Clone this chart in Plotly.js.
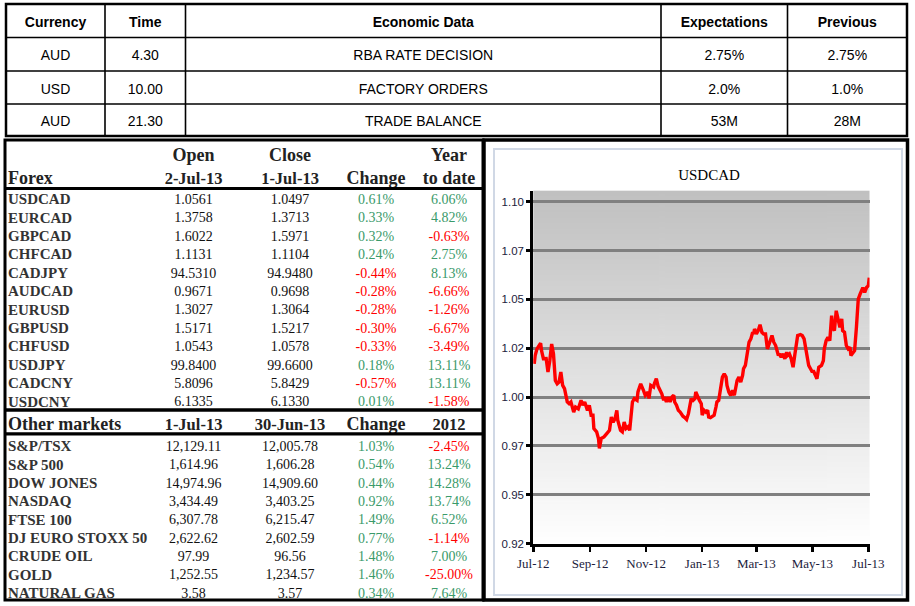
<!DOCTYPE html>
<html><head><meta charset="utf-8">
<script src="https://cdn.plot.ly/plotly-3.0.1.min.js"></script>
<style>html,body{margin:0;padding:0;background:#fff;}#chart{width:915px;height:606px;}</style>
</head><body><div id="chart"></div>
<script>
// ---------- Economic calendar ----------
const calHeaders = ['Currency','Time','Economic Data','Expectations','Previous'];
const calCurrency = ['AUD','USD','AUD'];
const calTime = ['4.30','10.00','21.30'];
const calEvent = ['RBA RATE DECISION','FACTORY ORDERS','TRADE BALANCE'];
const calExpect = ['2.75%','2.0%','53M'];
const calPrev = ['2.75%','1.0%','28M'];

// ---------- Forex ----------
const fxNames = ['USDCAD','EURCAD','GBPCAD','CHFCAD','CADJPY','AUDCAD','EURUSD','GBPUSD','CHFUSD','USDJPY','CADCNY','USDCNY'];
const fxOpen = ['1.0561','1.3758','1.6022','1.1131','94.5310','0.9671','1.3027','1.5171','1.0543','99.8400','5.8096','6.1335'];
const fxClose = ['1.0497','1.3713','1.5971','1.1104','94.9480','0.9698','1.3064','1.5217','1.0578','99.6600','5.8429','6.1330'];
const fxChange = [0.61,0.33,0.32,0.24,-0.44,-0.28,-0.28,-0.30,-0.33,0.18,-0.57,0.01];
const fxYtd = [6.06,4.82,-0.63,2.75,8.13,-6.66,-1.26,-6.67,-3.49,13.11,13.11,-1.58];

// ---------- Other markets ----------
const mkNames = ['S&P/TSX','S&P 500','DOW JONES','NASDAQ','FTSE 100','DJ EURO STOXX 50','CRUDE OIL','GOLD','NATURAL GAS'];
const mkJul1 = ['12,129.11','1,614.96','14,974.96','3,434.49','6,307.78','2,622.62','97.99','1,252.55','3.58'];
const mkJun30 = ['12,005.78','1,606.28','14,909.60','3,403.25','6,215.47','2,602.59','96.56','1,234.57','3.57'];
const mkChange = [1.03,0.54,0.44,0.92,1.49,0.77,1.48,1.46,0.34];
const mk2012 = [-2.45,13.24,14.28,13.74,6.52,-1.14,7.00,-25.00,7.64];

// ---------- USDCAD series ----------
const usdcadDates = ['2012-07-02','2012-07-03','2012-07-05','2012-07-09','2012-07-10','2012-07-12','2012-07-15','2012-07-17','2012-07-19','2012-07-21','2012-07-23','2012-07-25','2012-07-27','2012-07-29','2012-07-31','2012-08-02','2012-08-04','2012-08-07','2012-08-09','2012-08-11','2012-08-14','2012-08-16','2012-08-19','2012-08-22','2012-08-24','2012-08-26','2012-08-29','2012-08-31','2012-09-02','2012-09-04','2012-09-05','2012-09-08','2012-09-10','2012-09-11','2012-09-13','2012-09-16','2012-09-19','2012-09-22','2012-09-24','2012-09-26','2012-09-28','2012-09-30','2012-10-01','2012-10-02','2012-10-04','2012-10-06','2012-10-08','2012-10-10','2012-10-12','2012-10-14','2012-10-15','2012-10-17','2012-10-19','2012-10-22','2012-10-23','2012-10-26','2012-10-29','2012-10-31','2012-11-03','2012-11-04','2012-11-06','2012-11-09','2012-11-10','2012-11-12','2012-11-14','2012-11-16','2012-11-18','2012-11-20','2012-11-21','2012-11-23','2012-11-25','2012-11-27','2012-11-29','2012-12-01','2012-12-02','2012-12-04','2012-12-06','2012-12-08','2012-12-10','2012-12-11','2012-12-13','2012-12-15','2012-12-17','2012-12-19','2012-12-20','2012-12-22','2012-12-24','2012-12-25','2012-12-27','2012-12-29','2012-12-31','2013-01-01','2013-01-03','2013-01-05','2013-01-07','2013-01-08','2013-01-10','2013-01-12','2013-01-14','2013-01-16','2013-01-17','2013-01-19','2013-01-21','2013-01-23','2013-01-25','2013-01-27','2013-01-28','2013-01-30','2013-02-01','2013-02-03','2013-02-05','2013-02-06','2013-02-08','2013-02-10','2013-02-12','2013-02-14','2013-02-15','2013-02-17','2013-02-19','2013-02-21','2013-02-23','2013-02-25','2013-02-26','2013-02-27','2013-03-01','2013-03-03','2013-03-05','2013-03-07','2013-03-09','2013-03-11','2013-03-13','2013-03-15','2013-03-18','2013-03-20','2013-03-22','2013-03-25','2013-03-26','2013-03-28','2013-03-30','2013-04-01','2013-04-03','2013-04-04','2013-04-06','2013-04-08','2013-04-10','2013-04-12','2013-04-14','2013-04-15','2013-04-18','2013-04-20','2013-04-22','2013-04-24','2013-04-25','2013-04-27','2013-04-29','2013-05-01','2013-05-02','2013-05-05','2013-05-06','2013-05-08','2013-05-11','2013-05-13','2013-05-14','2013-05-16','2013-05-18','2013-05-20','2013-05-22','2013-05-23','2013-05-25','2013-05-27','2013-05-29','2013-05-31','2013-06-02','2013-06-03','2013-06-05','2013-06-07','2013-06-09','2013-06-11','2013-06-12','2013-06-14','2013-06-16','2013-06-18','2013-06-20','2013-06-22','2013-06-23','2013-06-25','2013-06-27','2013-06-29','2013-07-01','2013-07-02'];
const usdcadValues = [1.0170,1.0213,1.0247,1.0276,1.0238,1.0196,1.0197,1.0128,1.0187,1.0272,1.0221,1.0085,1.0068,1.0077,1.0128,1.0060,1.0043,0.9975,0.9966,0.9975,0.9923,0.9949,0.9940,0.9983,0.9958,0.9975,0.9932,0.9958,0.9907,0.9907,0.9839,0.9822,0.9788,0.9737,0.9788,0.9796,0.9813,0.9830,0.9898,0.9872,0.9889,0.9932,0.9881,0.9864,0.9830,0.9822,0.9872,0.9839,0.9847,0.9830,0.9898,0.9975,0.9992,0.9983,1.0026,1.0068,1.0034,1.0009,1.0026,0.9992,1.0060,1.0051,1.0071,1.0094,1.0055,1.0034,1.0017,0.9983,1.0000,0.9975,1.0000,0.9975,1.0000,1.0009,0.9975,0.9958,0.9932,0.9923,0.9907,0.9902,0.9895,0.9885,0.9915,0.9958,0.9992,0.9983,0.9992,1.0026,1.0000,0.9983,0.9966,0.9907,0.9932,0.9923,0.9932,0.9898,0.9895,0.9902,0.9907,0.9949,0.9975,0.9983,1.0034,1.0102,1.0119,1.0102,1.0060,1.0026,1.0009,1.0034,1.0009,1.0043,1.0085,1.0102,1.0077,1.0111,1.0145,1.0162,1.0221,1.0281,1.0298,1.0332,1.0323,1.0349,1.0323,1.0340,1.0371,1.0332,1.0323,1.0323,1.0247,1.0272,1.0315,1.0281,1.0264,1.0213,1.0221,1.0204,1.0221,1.0196,1.0230,1.0213,1.0221,1.0196,1.0153,1.0221,1.0306,1.0315,1.0320,1.0315,1.0298,1.0238,1.0196,1.0162,1.0145,1.0128,1.0136,1.0111,1.0094,1.0153,1.0162,1.0187,1.0247,1.0289,1.0306,1.0289,1.0417,1.0357,1.0340,1.0442,1.0400,1.0357,1.0400,1.0340,1.0332,1.0264,1.0247,1.0255,1.0213,1.0230,1.0238,1.0357,1.0502,1.0527,1.0536,1.0561,1.0536,1.0561,1.0570,1.0612];

const xTickVals = ['2012-07-01','2012-09-01','2012-11-01','2013-01-01','2013-03-01','2013-05-01','2013-07-01'];
const xTickText = ['Jul-12','Sep-12','Nov-12','Jan-13','Mar-13','May-13','Jul-13'];
const yTickVals = [0.925,0.95,0.975,1.0,1.025,1.05,1.075,1.10];
const yTickText = ['0.92','0.95','0.97','1.00','1.02','1.05','1.07','1.10'];

// ---------- layout helpers ----------
const W = 915, H = 606;
const traces = [], shapes = [];
const SANS = 'Liberation Sans, Arial, sans-serif';
const SERIF = 'Liberation Serif, Times New Roman, serif';
const GREEN = '#3a9a6a', RED = '#ff0000';
const TEXT_DY = 2.5;   // plotly 'middle' sits a little high
function textCol(xs, ys, texts, font, pos) {
  traces.push({type:'scatter', mode:'text', x:xs, y:ys.map(v => v + TEXT_DY), text:texts,
    textposition: pos || 'middle center', textfont: font,
    xaxis:'x2', yaxis:'y2', hoverinfo:'skip', showlegend:false, cliponaxis:false});
}
function hline(x0, x1, y, w, c) { shapes.push({type:'line', xref:'x2', yref:'y2', x0:x0, x1:x1, y0:y, y1:y, line:{width:w, color:c || '#000'}}); }
function vline(x, y0, y1, w, c) { shapes.push({type:'line', xref:'x2', yref:'y2', x0:x, x1:x, y0:y0, y1:y1, line:{width:w, color:c || '#000'}}); }
function box(x0, y0, x1, y1, w, c) { shapes.push({type:'rect', xref:'x2', yref:'y2', x0:x0, x1:x1, y0:y0, y1:y1, line:{width:w, color:c || '#000'}, fillcolor:'rgba(0,0,0,0)'}); }
const rep = (v, n) => Array(n).fill(v);
const pct = v => v.toFixed(2) + '%';
const pcol = v => v < 0 ? RED : GREEN;

// ---------- top calendar table ----------
const calColEdges = [6, 105, 185.5, 661, 787.5, 907];
const calRowEdges = [4, 37.5, 71, 104, 136];
const calColMid = calColEdges.slice(0, -1).map((v, i) => (v + calColEdges[i + 1]) / 2);
const calRowMid = calRowEdges.slice(0, -1).map((v, i) => (v + calRowEdges[i + 1]) / 2);
textCol(calColMid, rep(calRowMid[0], 5), calHeaders.map(t => '<b>' + t + '</b>'), {family:SANS, size:14, color:'#000'});
const calCols = [calCurrency, calTime, calEvent, calExpect, calPrev];
calCols.forEach((col, c) => textCol(rep(calColMid[c], col.length), calRowMid.slice(1), col, {family:SANS, size:14, color:'#000'}));
box(calColEdges[0], calRowEdges[0], calColEdges[5], calRowEdges[4], 2.5);
calRowEdges.slice(1, -1).forEach(y => hline(calColEdges[0], calColEdges[5], y, 1.6));
calColEdges.slice(1, -1).forEach(x => vline(x, calRowEdges[0], calRowEdges[4], 1.6));

// ---------- left market table ----------
const L = {x0:5, x1:483, y0:140, y1:600};
const nameX = 8, colOpen = 193.5, colClose = 290, colChg = 376, colYtd = 449;
const rowH = 18.4;
const hdr1Y = 154, hdr2Y = 177, fxTop = 198;
const HF = {family:SERIF, size:16.5, color:'#222'};
const HFL = {family:SERIF, size:18, color:'#222'};
const NF = {family:SERIF, size:15, color:'#333'};
const VF = {family:SERIF, size:14, color:'#111'};
textCol([colOpen, colClose, colYtd], rep(hdr1Y, 3), ['<b>Open</b>','<b>Close</b>','<b>Year</b>'], HFL);
textCol([colOpen, colClose], rep(hdr2Y, 2), ['<b>2-Jul-13</b>','<b>1-Jul-13</b>'], HF);
textCol([colChg, colYtd], rep(hdr2Y, 2), ['<b>Change</b>','<b>to date</b>'], HFL);
textCol([nameX], [hdr2Y], ['<b>Forex</b>'], HFL, 'middle right');
const fxY = fxNames.map((_, i) => fxTop + i * rowH);
textCol(rep(nameX, fxNames.length), fxY, fxNames.map(n => '<b>' + n + '</b>'), NF, 'middle right');
textCol(rep(colOpen, fxOpen.length), fxY, fxOpen, VF);
textCol(rep(colClose, fxClose.length), fxY, fxClose, VF);
textCol(rep(colChg, fxChange.length), fxY, fxChange.map(pct), Object.assign({}, VF, {color:fxChange.map(pcol)}));
textCol(rep(colYtd, fxYtd.length), fxY, fxYtd.map(pct), Object.assign({}, VF, {color:fxYtd.map(pcol)}));
const sep1 = fxY[fxY.length - 1] + 9.5;
const mkHdrY = sep1 + 13.5;
const sep2 = mkHdrY + 10.5;
const mkTop = sep2 + 11.2;
textCol([nameX], [mkHdrY], ['<b>Other markets</b>'], HFL, 'middle right');
textCol([colOpen, colClose, colYtd], rep(mkHdrY, 3), ['<b>1-Jul-13</b>','<b>30-Jun-13</b>','<b>2012</b>'], HF);
textCol([colChg], [mkHdrY], ['<b>Change</b>'], HFL);
const mkY = mkNames.map((_, i) => mkTop + i * 18.33);
textCol(rep(nameX, mkNames.length), mkY, mkNames.map(n => '<b>' + n + '</b>'), NF, 'middle right');
textCol(rep(colOpen, mkJul1.length), mkY, mkJul1, VF);
textCol(rep(colClose, mkJun30.length), mkY, mkJun30, VF);
textCol(rep(colChg, mkChange.length), mkY, mkChange.map(pct), Object.assign({}, VF, {color:mkChange.map(pcol)}));
textCol(rep(colYtd, mk2012.length), mkY, mk2012.map(pct), Object.assign({}, VF, {color:mk2012.map(pcol)}));
hline(L.x0, L.x1, 188.5, 3.2);
hline(L.x0, L.x1, sep1, 3.5);
hline(L.x0, L.x1, sep2, 3.2);
box(L.x0, L.y0, L.x1, L.y1, 3);

// ---------- chart box ----------
box(484, 140, 907.5, 600, 3.5);
box(494, 149, 902, 595, 2, '#d0d8e5');

// USDCAD line
traces.push({type:'scatter', mode:'lines', x:usdcadDates, y:usdcadValues,
  line:{color:'#ff0000', width:3.4}, xaxis:'x', yaxis:'y', hoverinfo:'skip', showlegend:false});

// gradient plot background (canvas -> png)
const cv = document.createElement('canvas'); cv.width = 4; cv.height = 256;
const cx = cv.getContext('2d');
const gr = cx.createLinearGradient(0, 0, 0, 256);
gr.addColorStop(0, '#c0c0c0'); gr.addColorStop(1, '#ffffff');
cx.fillStyle = gr; cx.fillRect(0, 0, 4, 256);
const plotL = 533.3, plotR = 869.5, plotT = 190.7, plotB = 543.5;

const layout = {
  width: W, height: H, margin:{l:0, r:0, t:0, b:0},
  paper_bgcolor:'#ffffff', plot_bgcolor:'rgba(0,0,0,0)', showlegend:false,
  title:{text:'USDCAD', font:{family:SERIF, size:15, color:'#000'}, x:709/W, xref:'paper', xanchor:'center', y:1-175/H, yref:'paper', yanchor:'middle'},
  xaxis:{domain:[plotL/W, plotR/W], type:'date', range:['2012-07-01','2013-07-02 06:00'],
    tickmode:'array', tickvals:xTickVals, ticktext:xTickText, ticks:'outside', ticklen:5, tickwidth:2.5, tickcolor:'#000',
    showline:true, linecolor:'#000', linewidth:3, showgrid:false, zeroline:false, anchor:'y', fixedrange:true,
    ticklabelstandoff:1, tickfont:{family:SERIF, size:13, color:'#1c1c3c'}},
  yaxis:{domain:[1-plotB/H, 1-plotT/H], range:[0.925, 1.1057], tickmode:'array', tickvals:yTickVals, ticktext:yTickText,
    ticks:'outside', ticklen:4, tickwidth:3, tickcolor:'#000', showline:true, linecolor:'#000', linewidth:3,
    showgrid:true, gridcolor:'#808080', gridwidth:3, zeroline:false, anchor:'x', fixedrange:true,
    ticklabelstandoff:0, tickfont:{family:SANS, size:11.5, color:'#1c1c3c'}},
  xaxis2:{domain:[0,1], range:[0,W], visible:false, anchor:'y2', fixedrange:true},
  yaxis2:{domain:[0,1], range:[H,0], visible:false, anchor:'x2', fixedrange:true},
  images:[{source:cv.toDataURL('image/png'), xref:'paper', yref:'paper', x:plotL/W, y:1-plotT/H,
    sizex:(plotR-plotL)/W, sizey:(plotB-plotT)/H, xanchor:'left', yanchor:'top', sizing:'stretch', layer:'below'}],
  shapes: shapes
};
Plotly.newPlot('chart', traces, layout, {staticPlot:true, displayModeBar:false});
</script></body></html>
